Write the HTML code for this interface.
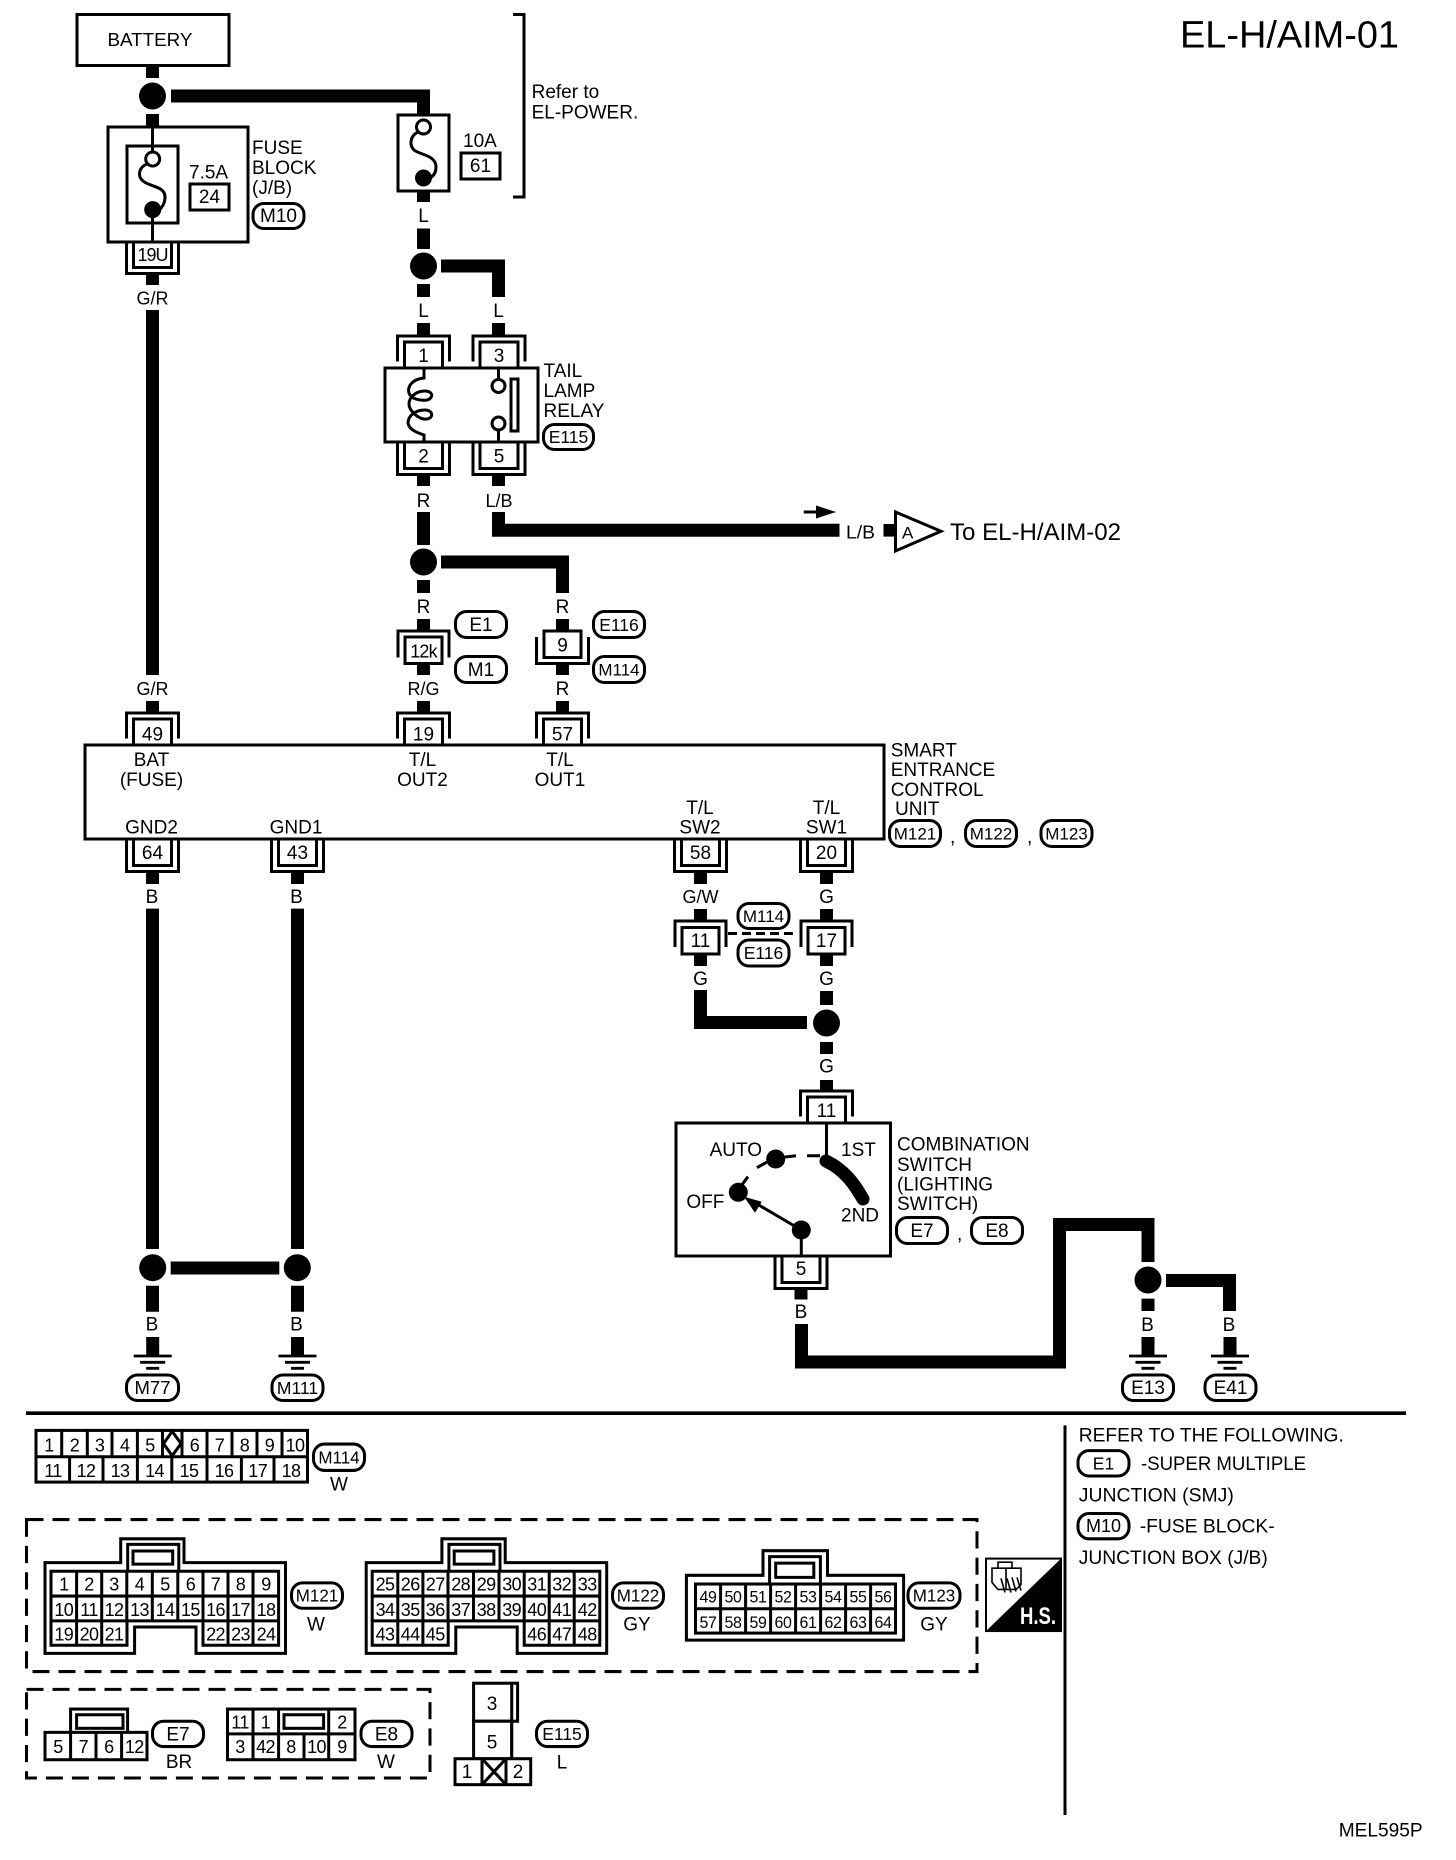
<!DOCTYPE html>
<html><head><meta charset="utf-8"><style>
html,body{margin:0;padding:0;background:#fff}
svg{display:block}
text{font-family:"Liberation Sans",sans-serif;font-size:19px;fill:#000}
.m{text-anchor:middle}
.n{font-size:18px;text-anchor:middle;letter-spacing:-.6px}
.k{font-size:16px;text-anchor:middle;letter-spacing:-.4px}
.w{fill:none;stroke:#000;stroke-width:13}
.l{fill:none;stroke:#000;stroke-width:3}
.b{fill:#fff;stroke:#000;stroke-width:3}
.p{fill:#fff;stroke:#000;stroke-width:3}
</style></head><body>
<svg width="1456" height="1860" viewBox="0 0 1456 1860" xmlns="http://www.w3.org/2000/svg">
<defs>
<g id="ct"><path class="l" d="M-26 -6.5V-32H26V-6.5"/><path class="l" d="M-19 0V-26H19V0"/></g>
<g id="cb"><path class="l" d="M-26 0V32.5H26V0"/><path class="l" d="M-19 0V26.5H19V0"/></g>
<g id="gnd"><path class="w" d="M0 -19V0"/><path d="M-19 0H19M-12.5 6.3H12.5M-6.5 12.3H6.5" fill="none" stroke="#000" stroke-width="2.8"/></g>
<g id="fr">
<path class="l" d="M45 1560.5H120.7V1537H184V1560.5H285.5V1650H196V1624H134.6V1650H45Z"/>
<path class="l" d="M127.7 1569V1542.5H178.8V1569"/>
<path class="l" d="M133 1549H172.7V1562H133Z"/>
<path class="l" d="M51 1569H278.6V1642H203V1618H127V1642H51Z"/>
<path class="l" d="M51 1593.5H278.6M51 1618H127M203 1618H278.6M76.6 1569V1642M101.7 1569V1642M126.8 1569V1618M152.3 1569V1618M177.8 1569V1618M203 1569V1618M228 1569V1642M253 1569V1642"/>
</g>
</defs>

<!-- Title -->
<text x="1180" y="47.4" style="font-size:38px" textLength="219" lengthAdjust="spacingAndGlyphs">EL-H/AIM-01</text>

<!-- Battery -->
<rect class="b" x="77" y="14.5" width="152" height="51"/>
<text x="107.5" y="46" style="font-size:18.8px">BATTERY</text>

<!-- Top wires -->
<path class="w" d="M152.5 65V78M152.5 114V127"/>
<circle cx="152.5" cy="96" r="13.5"/>
<path class="w" d="M171 96H423.5V115"/>
<path class="l" d="M513 14.5H524V197H513"/>
<text x="531.6" y="98">Refer to</text>
<text x="531.6" y="118.6">EL-POWER.</text>

<!-- Fuse block -->
<rect class="b" x="108" y="127" width="140" height="115"/>
<rect class="b" x="127" y="146" width="51" height="77"/>
<path class="l" d="M152.5 127V152M152.5 216V242"/>
<circle class="b" cx="152.7" cy="159" r="7"/>
<circle cx="152.7" cy="209.6" r="8.5"/>
<path class="l" d="M147 164C139 167 137 176 143 181C150 187 165 186 165 197C165 205 160 210 155 213"/>
<text x="189" y="178.7">7.5A</text>
<rect class="b" x="190" y="184" width="39" height="26"/>
<text class="m" x="209.5" y="203">24</text>
<text x="252" y="154">FUSE</text>
<text x="252" y="174">BLOCK</text>
<text x="252" y="194">(J/B)</text>
<rect class="p" x="253" y="203.5" width="51" height="25" rx="11"/>
<text class="m" x="278.5" y="222">M10</text>
<use href="#cb" x="152.5" y="241"/>
<text class="m" x="152.5" y="261" style="font-size:18px;letter-spacing:-1px">19U</text>
<path class="w" d="M152.5 273V285"/>
<text class="m" x="152.5" y="304.5" style="font-size:18px">G/R</text>
<path class="w" d="M152.5 310V675"/>
<text class="m" x="152.5" y="695" style="font-size:18px">G/R</text>
<path class="w" d="M152.5 701V713"/>

<!-- 10A fuse -->
<rect class="b" x="398" y="115" width="51" height="76"/>
<circle class="b" cx="423.5" cy="127" r="7"/>
<circle cx="423.5" cy="178" r="8.5"/>
<path class="l" d="M418 132C410 136 409 145 414 150C420 155 436 155 436 167C436 174 432 178 426 180"/>
<text x="463" y="147">10A</text>
<rect class="b" x="461" y="153" width="39" height="26"/>
<text class="m" x="480.5" y="172">61</text>
<path class="w" d="M423.5 191V202M423.5 228.5V249M423.5 284V297M423.5 323V335"/>
<text class="m" x="423.5" y="222">L</text>
<circle cx="423.5" cy="266" r="13.5"/>
<path class="w" d="M441 266H498.5V297"/>
<path class="w" d="M498.5 323V335"/>
<text class="m" x="423.5" y="317">L</text>
<text class="m" x="498.5" y="317">L</text>

<!-- Relay -->
<use href="#ct" x="423.5" y="368"/>
<use href="#ct" x="499" y="368"/>
<text class="m" x="423.5" y="362">1</text>
<text class="m" x="499" y="362">3</text>
<rect class="b" x="385" y="368" width="153" height="74"/>
<path class="l" d="M424 368V378C413 379 407 386 409 393C411 399 420 401 427 400C434 398 433 391 425 391C415 391 409 398 409 404C409 410 418 420 427 419C434 418 433 410 425 410C415 410 408 416 408 423C409 430 418 433 424 435V442"/>
<path class="l" d="M498.5 368V379M498.5 431V442"/>
<circle class="b" cx="498.5" cy="386" r="6.5"/>
<circle class="b" cx="498.5" cy="423.5" r="6.5"/>
<rect class="b" x="511" y="379" width="7" height="52"/>
<use href="#cb" x="423.5" y="442"/>
<use href="#cb" x="499" y="442"/>
<text class="m" x="423.5" y="462.6">2</text>
<text class="m" x="499" y="462.6">5</text>
<text x="543.5" y="377">TAIL</text>
<text x="543.5" y="397">LAMP</text>
<text x="543.5" y="417" textLength="61" lengthAdjust="spacingAndGlyphs">RELAY</text>
<rect class="p" x="543.5" y="424.5" width="50" height="25" rx="11"/>
<text class="m" x="568.5" y="443" style="font-size:17.5px">E115</text>

<!-- Below relay -->
<path class="w" d="M423.5 475V486M423.5 512V545M423.5 580V593M423.5 619V631"/>
<path class="w" d="M498.5 475V486"/>
<text class="m" x="423.5" y="507">R</text>
<text class="m" x="499" y="507" style="font-size:18px">L/B</text>
<path class="w" d="M498.5 512V530.3H839.5"/>
<path d="M803.7 510.5H816V505.5L836 512L816 518.5V513.5H803.7Z"/>
<text x="846" y="538.5" style="font-size:18.5px" textLength="29" lengthAdjust="spacingAndGlyphs">L/B</text>
<rect x="883.5" y="524" width="12" height="12.6"/>
<path class="b" d="M895.5 512V551L941 531.3Z"/>
<text x="902" y="538.5" style="font-size:17px">A</text>
<text x="950" y="540" style="font-size:24px" textLength="171" lengthAdjust="spacingAndGlyphs">To EL-H/AIM-02</text>
<circle cx="423.5" cy="562" r="13.5"/>
<path class="w" d="M441 562H562.5V593M562.5 619V631"/>
<text class="m" x="423.5" y="613">R</text>
<text class="m" x="562.5" y="613">R</text>

<!-- 12k -->
<path class="l" d="M398 657.5V631H449V657.5"/>
<rect class="b" x="405" y="637" width="37" height="26.5"/>
<text class="m" x="423.5" y="657.5" style="font-size:18px;letter-spacing:-.8px">12k</text>
<path class="w" d="M423.5 663.5V675M423.5 701V713"/>
<text class="m" x="423.5" y="695" style="font-size:18px">R/G</text>
<rect class="p" x="455.5" y="611.5" width="51" height="26" rx="11"/>
<text class="m" x="481" y="631">E1</text>
<rect class="p" x="455.5" y="656.5" width="51" height="26" rx="11"/>
<text class="m" x="481" y="676">M1</text>

<!-- 9 -->
<path class="l" d="M536.5 637V663.5H588.5V637"/>
<rect class="b" x="544" y="631" width="37" height="26.5"/>
<text class="m" x="562.5" y="651.5">9</text>
<path class="w" d="M562.5 663.5V675M562.5 701V713"/>
<text class="m" x="562.5" y="695">R</text>
<rect class="p" x="593.5" y="611.5" width="51" height="26" rx="11"/>
<text class="m" x="619" y="631" style="font-size:17.5px">E116</text>
<rect class="p" x="593.5" y="656.5" width="51" height="26" rx="11"/>
<text class="m" x="619" y="675.5" style="font-size:17px">M114</text>

<!-- Control unit -->
<use href="#ct" x="152.5" y="745"/>
<use href="#ct" x="423.5" y="745"/>
<use href="#ct" x="562.5" y="745"/>
<text class="m" x="152.5" y="740.6">49</text>
<text class="m" x="423.5" y="740.6">19</text>
<text class="m" x="562.5" y="740.6">57</text>
<rect class="b" x="85" y="745" width="799" height="94"/>
<text class="m" x="151.5" y="766">BAT</text>
<text class="m" x="151.5" y="786">(FUSE)</text>
<text class="m" x="422.5" y="766">T/L</text>
<text class="m" x="422.5" y="786">OUT2</text>
<text class="m" x="560" y="766">T/L</text>
<text class="m" x="560" y="786">OUT1</text>
<text class="m" x="151.5" y="833.5">GND2</text>
<text class="m" x="296" y="833.5">GND1</text>
<text class="m" x="700" y="814">T/L</text>
<text class="m" x="700" y="833.5">SW2</text>
<text class="m" x="826.5" y="814">T/L</text>
<text class="m" x="826.5" y="833.5">SW1</text>
<text x="890.7" y="756.7">SMART</text>
<text x="890.7" y="776">ENTRANCE</text>
<text x="890.7" y="796">CONTROL</text>
<text x="895" y="815">UNIT</text>
<rect class="p" x="889.5" y="820.5" width="51" height="26" rx="11"/>
<text class="m" x="915" y="839.5" style="font-size:17px">M121</text>
<text x="950" y="843">,</text>
<rect class="p" x="965.5" y="820.5" width="51" height="26" rx="11"/>
<text class="m" x="991" y="839.5" style="font-size:17px">M122</text>
<text x="1027" y="843">,</text>
<rect class="p" x="1041" y="820.5" width="51" height="26" rx="11"/>
<text class="m" x="1066.5" y="839.5" style="font-size:17px">M123</text>

<!-- Below unit -->
<use href="#cb" x="152.5" y="839"/>
<use href="#cb" x="297.5" y="839"/>
<use href="#cb" x="700.5" y="839"/>
<use href="#cb" x="826.5" y="839"/>
<text class="m" x="152.5" y="859">64</text>
<text class="m" x="297.5" y="859">43</text>
<text class="m" x="700.5" y="859">58</text>
<text class="m" x="826.5" y="859">20</text>
<path class="w" d="M152.5 872V884M152.5 908.6V1249M152.5 1285.7V1311.7"/>
<path class="w" d="M297.5 872V884M297.5 908.6V1249M297.5 1285.7V1311.7"/>
<text class="m" x="152" y="903">B</text>
<text class="m" x="296.5" y="903">B</text>
<circle cx="152.7" cy="1267.7" r="13.5"/>
<circle cx="297.3" cy="1267.7" r="13.5"/>
<path class="w" d="M170.7 1268H279.3"/>
<text class="m" x="152" y="1330.7">B</text>
<text class="m" x="296.5" y="1330.7">B</text>
<use href="#gnd" x="152.7" y="1356"/>
<use href="#gnd" x="297.5" y="1356"/>
<rect class="p" x="126.5" y="1375" width="52" height="25.5" rx="11"/>
<text class="m" x="152.5" y="1394" style="font-size:18.5px">M77</text>
<rect class="p" x="272" y="1375" width="51" height="25.5" rx="11"/>
<text class="m" x="297.5" y="1394" style="font-size:17.5px">M111</text>

<!-- G/W and 11/17 -->
<path class="w" d="M700.5 872V884M700.5 909V921M700.5 954V966"/>
<path class="w" d="M826.5 872V884M826.5 909V921M826.5 954V966M826.5 991V1005M826.5 1042V1054M826.5 1080V1091"/>
<text class="m" x="700.5" y="903" style="font-size:18px">G/W</text>
<text class="m" x="826.5" y="903">G</text>
<path class="l" d="M675 947V921H726V947"/>
<rect class="b" x="682" y="927.5" width="37" height="26.5"/>
<text class="m" x="700.5" y="947">11</text>
<path class="l" d="M801 947V921H852V947"/>
<rect class="b" x="808" y="927.5" width="37" height="26.5"/>
<text class="m" x="826.5" y="947">17</text>
<path d="M728 933.5H798" fill="none" stroke="#000" stroke-width="3" stroke-dasharray="9 5"/>
<rect class="p" x="738" y="903.5" width="51" height="25" rx="11"/>
<text class="m" x="763.5" y="922" style="font-size:17px">M114</text>
<rect class="p" x="738" y="940" width="51" height="26" rx="11"/>
<text class="m" x="763.5" y="959" style="font-size:17.5px">E116</text>
<text class="m" x="700.5" y="985">G</text>
<text class="m" x="826.5" y="985">G</text>
<path class="w" d="M700.5 990V1022.5H807"/>
<circle cx="826.5" cy="1023" r="13.5"/>
<text class="m" x="826.5" y="1072.7">G</text>

<!-- Combination switch -->
<use href="#ct" x="826.5" y="1123"/>
<text class="m" x="826.5" y="1117">11</text>
<rect class="b" x="676" y="1123" width="214.5" height="133"/>
<path class="l" d="M826.5 1123V1156"/>
<path d="M826 1161C845 1170 855 1185 863 1199" fill="none" stroke="#000" stroke-width="13" stroke-linecap="round"/>
<path class="l" d="M807 1155.7H820M785 1157L796 1155.7M757 1167.7L767 1162M748 1176.7L741.7 1185"/>
<circle cx="775.7" cy="1159" r="9.5"/>
<circle cx="738.3" cy="1192.3" r="9.5"/>
<circle cx="801.3" cy="1230" r="9.5"/>
<path class="l" d="M801.3 1230L752 1201M801.3 1230V1256"/>
<path d="M744 1196.7L761.7 1201.7L755 1212.7Z"/>
<text x="709.6" y="1156">AUTO</text>
<text x="841" y="1156">1ST</text>
<text x="686.4" y="1208">OFF</text>
<text x="841" y="1221.5">2ND</text>
<text x="897" y="1150.7">COMBINATION</text>
<text x="897" y="1171">SWITCH</text>
<text x="897" y="1190.7">(LIGHTING</text>
<text x="897" y="1210">SWITCH)</text>
<rect class="p" x="896.5" y="1217.5" width="51" height="26" rx="11"/>
<text class="m" x="922" y="1237">E7</text>
<text x="957" y="1240">,</text>
<rect class="p" x="971.5" y="1217.5" width="51" height="26" rx="11"/>
<text class="m" x="997" y="1237">E8</text>
<use href="#cb" x="801" y="1256"/>
<text class="m" x="801" y="1275">5</text>
<path class="w" d="M801 1288V1299.5"/>
<text class="m" x="801" y="1318">B</text>
<path class="w" d="M801.5 1324V1362H1059.5V1224.5H1148V1262"/>
<circle cx="1148" cy="1280" r="13.5"/>
<path class="w" d="M1148 1298.6V1311M1166 1280.5H1229.5V1311"/>
<text class="m" x="1147.5" y="1331">B</text>
<text class="m" x="1229" y="1331">B</text>
<use href="#gnd" x="1148" y="1356"/>
<use href="#gnd" x="1230" y="1356"/>
<rect class="p" x="1122.5" y="1375" width="51" height="25.5" rx="11"/>
<text class="m" x="1148" y="1394">E13</text>
<rect class="p" x="1205" y="1375" width="51" height="25.5" rx="11"/>
<text class="m" x="1230.5" y="1394">E41</text>

<!-- Bottom section -->
<g transform="translate(0,1400) scale(1,1.01333) translate(0,-1400)">
<path d="M26 1413H1406" stroke="#000" stroke-width="3.5" fill="none"/>
<path d="M1065 1425V1809.5" stroke="#000" stroke-width="3" fill="none"/>

<!-- M114 connector -->
<rect class="b" x="36" y="1430" width="271.5" height="51"/>
<path class="l" d="M36 1456H307.5M61.7 1430V1456M87.3 1430V1456M112 1430V1456M137.4 1430V1456M162.5 1430V1456M182 1430V1456M207 1430V1456M232 1430V1456M257 1430V1456M282 1430V1456M69.6 1456V1481M103 1456V1481M137.4 1456V1481M171.8 1456V1481M207 1456V1481M241.4 1456V1481M274 1456V1481"/>
<path class="l" d="M172.2 1431L181 1443L172.2 1455L163.5 1443Z"/>
<g>
<text class="n" x="49" y="1451">1</text><text class="n" x="74.5" y="1451">2</text><text class="n" x="99.6" y="1451">3</text><text class="n" x="124.7" y="1451">4</text><text class="n" x="150" y="1451">5</text><text class="n" x="194.5" y="1451">6</text><text class="n" x="219.5" y="1451">7</text><text class="n" x="244.5" y="1451">8</text><text class="n" x="269.5" y="1451">9</text><text class="n" x="295" y="1451">10</text>
<text class="n" x="53" y="1476">11</text><text class="n" x="86" y="1476">12</text><text class="n" x="120" y="1476">13</text><text class="n" x="154.5" y="1476">14</text><text class="n" x="189" y="1476">15</text><text class="n" x="224" y="1476">16</text><text class="n" x="257.7" y="1476">17</text><text class="n" x="291" y="1476">18</text>
</g>
<rect class="p" x="313.5" y="1443.5" width="51" height="26" rx="11"/>
<text class="m" x="339" y="1462.5" style="font-size:17px">M114</text>
<text class="m" x="339" y="1489.5">W</text>

<!-- Dashed boxes -->
<rect x="26.5" y="1518" width="950.5" height="150" fill="none" stroke="#000" stroke-width="3" stroke-dasharray="17 9"/>
<rect x="26.5" y="1685.6" width="403.5" height="87.4" fill="none" stroke="#000" stroke-width="3" stroke-dasharray="17 9"/>

<!-- M121 -->
<use href="#fr"/>
<g>
<text class="n" x="63.8" y="1588">1</text><text class="n" x="89" y="1588">2</text><text class="n" x="114" y="1588">3</text><text class="n" x="139.5" y="1588">4</text><text class="n" x="165" y="1588">5</text><text class="n" x="190.4" y="1588">6</text><text class="n" x="215.5" y="1588">7</text><text class="n" x="240.5" y="1588">8</text><text class="n" x="266" y="1588">9</text>
<text class="n" x="63.8" y="1613">10</text><text class="n" x="89" y="1613">11</text><text class="n" x="114" y="1613">12</text><text class="n" x="139.5" y="1613">13</text><text class="n" x="165" y="1613">14</text><text class="n" x="190.4" y="1613">15</text><text class="n" x="215.5" y="1613">16</text><text class="n" x="240.5" y="1613">17</text><text class="n" x="266" y="1613">18</text>
<text class="n" x="63.8" y="1637.5">19</text><text class="n" x="89" y="1637.5">20</text><text class="n" x="114" y="1637.5">21</text><text class="n" x="215.5" y="1637.5">22</text><text class="n" x="240.5" y="1637.5">23</text><text class="n" x="266" y="1637.5">24</text>
</g>
<rect class="p" x="291.5" y="1580.5" width="51" height="25" rx="11"/>
<text class="m" x="317" y="1599" style="font-size:17px">M121</text>
<text class="m" x="316" y="1627.5">W</text>

<!-- M122 -->
<use href="#fr" transform="translate(321.2,0)"/>
<g>
<text class="n" x="385" y="1588">25</text><text class="n" x="410.2" y="1588">26</text><text class="n" x="435.2" y="1588">27</text><text class="n" x="460.7" y="1588">28</text><text class="n" x="486.2" y="1588">29</text><text class="n" x="511.6" y="1588">30</text><text class="n" x="536.7" y="1588">31</text><text class="n" x="561.7" y="1588">32</text><text class="n" x="587.2" y="1588">33</text>
<text class="n" x="385" y="1613">34</text><text class="n" x="410.2" y="1613">35</text><text class="n" x="435.2" y="1613">36</text><text class="n" x="460.7" y="1613">37</text><text class="n" x="486.2" y="1613">38</text><text class="n" x="511.6" y="1613">39</text><text class="n" x="536.7" y="1613">40</text><text class="n" x="561.7" y="1613">41</text><text class="n" x="587.2" y="1613">42</text>
<text class="n" x="385" y="1637.5">43</text><text class="n" x="410.2" y="1637.5">44</text><text class="n" x="435.2" y="1637.5">45</text><text class="n" x="536.7" y="1637.5">46</text><text class="n" x="561.7" y="1637.5">47</text><text class="n" x="587.2" y="1637.5">48</text>
</g>
<rect class="p" x="612.5" y="1580.5" width="51" height="25" rx="11"/>
<text class="m" x="638" y="1599" style="font-size:17px">M122</text>
<text class="m" x="637" y="1627.5">GY</text>

<!-- M123 -->
<path class="l" d="M686.4 1573H763V1548.7H827.5V1573H903.6V1637H686.4Z"/>
<path class="l" d="M769.6 1581.6V1554.6H820.4V1581.6"/>
<path class="l" d="M775.7 1561H813.8V1575H775.7Z"/>
<rect class="l" x="695.5" y="1581.6" width="200" height="48.4"/>
<path class="l" d="M695.5 1606H895.5M720.6 1581.6V1630M745.6 1581.6V1630M770.6 1581.6V1630M795.6 1581.6V1630M820.6 1581.6V1630M845.6 1581.6V1630M870.6 1581.6V1630"/>
<g>
<text class="k" x="708" y="1600">49</text><text class="k" x="733" y="1600">50</text><text class="k" x="758" y="1600">51</text><text class="k" x="783" y="1600">52</text><text class="k" x="808" y="1600">53</text><text class="k" x="833" y="1600">54</text><text class="k" x="858" y="1600">55</text><text class="k" x="883" y="1600">56</text>
<text class="k" x="708" y="1625">57</text><text class="k" x="733" y="1625">58</text><text class="k" x="758" y="1625">59</text><text class="k" x="783" y="1625">60</text><text class="k" x="808" y="1625">61</text><text class="k" x="833" y="1625">62</text><text class="k" x="858" y="1625">63</text><text class="k" x="883" y="1625">64</text>
</g>
<rect class="p" x="908" y="1580.5" width="52" height="25" rx="11"/>
<text class="m" x="934" y="1599" style="font-size:17px">M123</text>
<text class="m" x="934" y="1627.5">GY</text>

<!-- HS icon -->
<rect x="986" y="1556.5" width="75" height="71.5" fill="#fff" stroke="#000" stroke-width="2"/>
<path d="M986 1628L1061 1556.5V1628Z"/>
<text x="1020" y="1621" style="font-size:24px;font-weight:bold;fill:#fff" textLength="36" lengthAdjust="spacingAndGlyphs">H.S.</text>
<path d="M992 1566H1021V1582L1016 1587H998L992 1580ZM998 1566V1560H1012V1566M1006 1566V1586M1001 1576L1005 1590M1007 1576L1011 1590M1012 1575L1016 1589M1017 1575L1021 1588" fill="none" stroke="#000" stroke-width="1.6"/>

<!-- Right notes -->
<text x="1078.8" y="1441" textLength="265" lengthAdjust="spacingAndGlyphs">REFER TO THE FOLLOWING.</text>
<rect class="p" x="1078" y="1450" width="51" height="25" rx="11"/>
<text class="m" x="1103.5" y="1468.5" style="font-size:17.5px">E1</text>
<text x="1141" y="1469" textLength="165" lengthAdjust="spacingAndGlyphs">-SUPER MULTIPLE</text>
<text x="1078.8" y="1500" textLength="155" lengthAdjust="spacingAndGlyphs">JUNCTION (SMJ)</text>
<rect class="p" x="1078" y="1512" width="51" height="25" rx="11"/>
<text class="m" x="1103.5" y="1530.5" style="font-size:18px">M10</text>
<text x="1139.7" y="1531" textLength="135" lengthAdjust="spacingAndGlyphs">-FUSE BLOCK-</text>
<text x="1078.8" y="1562" textLength="189" lengthAdjust="spacingAndGlyphs">JUNCTION BOX (J/B)</text>
<text x="1338.7" y="1831" textLength="84" lengthAdjust="spacingAndGlyphs">MEL595P</text>

<!-- E7 -->
<rect class="b" x="70.6" y="1705" width="57" height="30"/>
<rect class="b" x="45" y="1728" width="102" height="27"/>
<path class="l" d="M70.6 1728V1755M96 1728V1755M121.6 1728V1755"/>
<rect class="b" x="76.6" y="1710.6" width="46.4" height="13.4"/>
<text class="n" x="58" y="1748.6">5</text><text class="n" x="83.3" y="1748.6">7</text><text class="n" x="108.8" y="1748.6">6</text><text class="n" x="134.3" y="1748.6">12</text>
<rect class="p" x="152.5" y="1717" width="51" height="25" rx="11"/>
<text class="m" x="178" y="1736">E7</text>
<text class="m" x="179" y="1763">BR</text>

<!-- E8 -->
<rect class="b" x="227.5" y="1705" width="127.5" height="50"/>
<path class="l" d="M227.5 1729.5H355M253 1705V1755M278.6 1705V1755M328.7 1705V1755M304 1729.5V1755"/>
<rect class="b" x="284" y="1710.6" width="39.6" height="13.4"/>
<text class="n" x="240" y="1724">11</text><text class="n" x="265.5" y="1724">1</text><text class="n" x="342" y="1724">2</text>
<text class="n" x="240" y="1748.6">3</text><text class="n" x="265.5" y="1748.6">42</text><text class="n" x="291" y="1748.6">8</text><text class="n" x="316.5" y="1748.6">10</text><text class="n" x="342" y="1748.6">9</text>
<rect class="p" x="361" y="1717" width="51" height="25" rx="11"/>
<text class="m" x="386.5" y="1736">E8</text>
<text class="m" x="386" y="1763">W</text>

<!-- E115 connector -->
<rect class="b" x="473.6" y="1679.5" width="44" height="37.5"/>
<path class="l" d="M511.7 1679.5V1754"/>
<rect class="b" x="473.6" y="1717" width="38" height="37"/>
<rect class="b" x="455" y="1754" width="75.7" height="25.6"/>
<path class="l" d="M482 1754V1779.6M506 1754V1779.6M482 1754L506 1779.6M506 1754L482 1779.6"/>
<text class="m" x="492" y="1706">3</text>
<text class="m" x="492" y="1744">5</text>
<text class="m" x="467" y="1773">1</text>
<text class="m" x="518" y="1773">2</text>
<rect class="p" x="536.5" y="1717" width="51" height="25" rx="11"/>
<text class="m" x="562" y="1735.5" style="font-size:17.5px">E115</text>
<text class="m" x="562" y="1763.6">L</text>
</g>
</svg>
</body></html>
